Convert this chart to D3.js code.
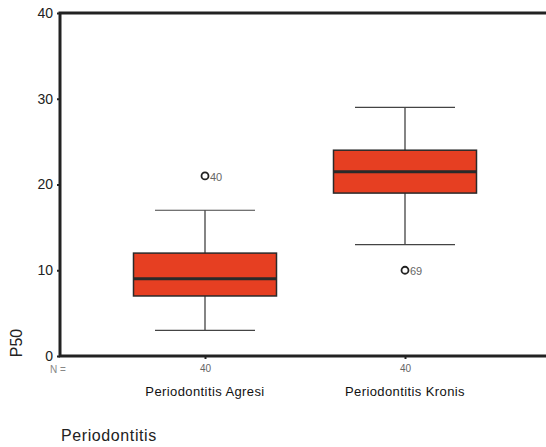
<!DOCTYPE html>
<meta charset="utf-8">
<html>
<head>
<script src="https://d3js.org/d3.v7.min.js"></script>
<style>
  body { margin: 0; background: #fff; }
  text { font-family: "Liberation Sans", Arial, sans-serif; }
</style>
</head>
<body>
<div id="viz"></div>
<script>
    // data
    const groups = ["Periodontitis Agresi", "Periodontitis Kronis"];
    const counts = [40, 40];
    const whiskerLow = [3, 13];
    const q1 = [7, 19];
    const medians = [9, 21.5];
    const q3 = [12, 24];
    const whiskerHigh = [17, 29];
    const outliers = [[{v: 21, id: "40"}], [{v: 10, id: "69"}]];
    const yTicks = [0, 10, 20, 30, 40];

    const w = 546, h = 447;
    const margin = {top: 13, left: 60, bottom: 91, right: 0};
    const boxColor = "#e63f22", lineColor = "#222";

    const svg = d3.select("#viz").append("svg")
        .attr("width", w).attr("height", h);

    const y = d3.scaleLinear().domain([0, 40]).range([h - margin.bottom, margin.top]);
    const x = d3.scalePoint().domain(groups).range([205, 405]);

    // y axis
    const yAxis = svg.append("g")
        .attr("transform", `translate(${margin.left},0)`)
        .call(d3.axisLeft(y).tickValues(yTicks).tickSize(3).tickPadding(4));
    yAxis.select(".domain").remove();
    yAxis.selectAll("line").attr("stroke", lineColor).attr("stroke-width", 2);
    yAxis.selectAll("text").attr("font-size", 14).attr("fill", "#222");

    // x axis ticks (counts under)
    const xAxis = svg.append("g")
        .attr("transform", `translate(0,${y(0)})`)
        .call(d3.axisBottom(x).tickSize(3).tickFormat((d, i) => counts[i]).tickPadding(6));
    xAxis.select(".domain").remove();
    xAxis.selectAll("line").attr("stroke", lineColor).attr("stroke-width", 2);
    xAxis.selectAll("text").attr("font-size", 10).attr("fill", "#666");

    // frame lines
    svg.append("path")
        .attr("d", `M${w},${margin.top}H${margin.left}V${y(0)}H${w}`)
        .attr("fill", "none").attr("stroke", lineColor).attr("stroke-width", 3);

    const boxW = 143, capW = 100;
    const g = svg.append("g");
    groups.forEach((name, i) => {
        const cx = x(name);
        g.append("line").attr("x1", cx).attr("x2", cx)
            .attr("y1", y(whiskerHigh[i])).attr("y2", y(whiskerLow[i]))
            .attr("stroke", "#333").attr("stroke-width", 1.2);
        [whiskerHigh[i], whiskerLow[i]].forEach(v => {
            g.append("line").attr("x1", cx - capW / 2).attr("x2", cx + capW / 2)
                .attr("y1", y(v)).attr("y2", y(v))
                .attr("stroke", "#444").attr("stroke-width", 1.2);
        });
        g.append("rect")
            .attr("x", cx - boxW / 2).attr("width", boxW)
            .attr("y", y(q3[i])).attr("height", y(q1[i]) - y(q3[i]))
            .attr("fill", boxColor).attr("stroke", "#2a2a2a").attr("stroke-width", 1.5);
        g.append("line").attr("x1", cx - boxW / 2).attr("x2", cx + boxW / 2)
            .attr("y1", y(medians[i])).attr("y2", y(medians[i]))
            .attr("stroke", "#2a2a2a").attr("stroke-width", 3);
        outliers[i].forEach(o => {
            g.append("circle").attr("cx", cx).attr("cy", y(o.v)).attr("r", 3.5)
                .attr("fill", "none").attr("stroke", "#222").attr("stroke-width", 1.8);
            g.append("text").attr("x", cx + 5).attr("y", y(o.v) + 5)
                .attr("font-size", 11).attr("fill", "#666").text(o.id);
        });
        svg.append("text").attr("x", cx).attr("y", 396)
            .attr("text-anchor", "middle").attr("font-size", 13)
            .attr("letter-spacing", 0.4).attr("fill", "#111")
            .text(name);
    });

    svg.append("text").attr("x", 50).attr("y", 373)
        .attr("font-size", 10).attr("fill", "#888").text("N =");

    svg.append("text")
        .attr("transform", `translate(22,343) rotate(-90)`)
        .attr("text-anchor", "middle").attr("font-size", 16).attr("fill", "#222")
        .text("P50");

    svg.append("text").attr("x", 61).attr("y", 441)
        .attr("font-size", 16).attr("letter-spacing", 0.6).attr("fill", "#222").text("Periodontitis");
</script>
</body>
</html>
